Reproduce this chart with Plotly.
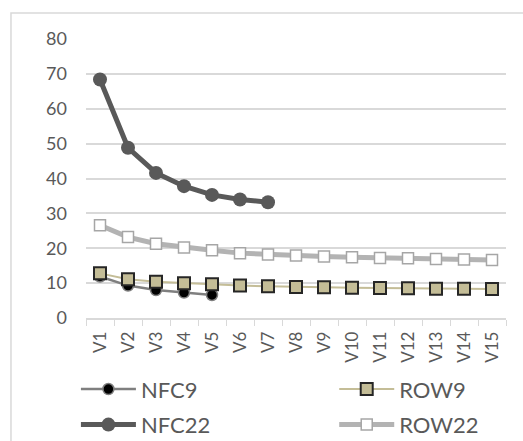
import plotly.graph_objects as go

categories = [f"V{i}" for i in range(1, 16)]
nfc9 = [11.9, 9.3, 8.0, 7.3, 6.6]
row9 = [12.8, 11.1, 10.4, 10.0, 9.7, 9.3, 9.1, 8.9, 8.8, 8.7, 8.6, 8.5, 8.4, 8.4, 8.3]
nfc22 = [68.4, 48.8, 41.6, 37.8, 35.3, 34.0, 33.2]
row22 = [26.6, 23.2, 21.3, 20.2, 19.4, 18.6, 18.2, 17.9, 17.6, 17.4, 17.2, 17.1, 16.9, 16.8, 16.6]

FONT = "Lato"
fig = go.Figure()
fig.add_trace(go.Scatter(x=categories[:len(nfc9)], y=nfc9, name="NFC9", mode="lines+markers",
                         legend="legend", legendgroup="a",
                         line=dict(color="#7f7f7f", width=2.5),
                         marker=dict(symbol="circle", size=11, color="#000000",
                                     line=dict(color="#7f7f7f", width=1.5))))
fig.add_trace(go.Scatter(x=categories, y=row9, name="ROW9", mode="lines+markers",
                         legend="legend2", legendgroup="b",
                         line=dict(color="#c4bd97", width=2),
                         marker=dict(symbol="square", size=12, color="#c4bd97",
                                     line=dict(color="#262626", width=2))))
fig.add_trace(go.Scatter(x=categories[:len(nfc22)], y=nfc22, name="NFC22", mode="lines+markers",
                         legend="legend", legendgroup="c",
                         line=dict(color="#595959", width=5),
                         marker=dict(symbol="circle", size=14, color="#595959",
                                     line=dict(color="#595959", width=0))))
fig.add_trace(go.Scatter(x=categories, y=row22, name="ROW22", mode="lines+markers",
                         legend="legend2", legendgroup="d",
                         line=dict(color="#b3b3b3", width=5),
                         marker=dict(symbol="square", size=11, color="#ffffff",
                                     line=dict(color="#a6a6a6", width=1.5))))

leg_common = dict(orientation="v", xanchor="left", y=-0.18, yanchor="top",
                  font=dict(size=22, color="#595959"), itemwidth=55,
                  traceorder="grouped", tracegroupgap=4, bgcolor="rgba(0,0,0,0)")
fig.update_layout(
    width=523, height=441,
    margin=dict(l=86, r=17, t=39, b=123, autoexpand=False),
    paper_bgcolor="white", plot_bgcolor="white",
    font=dict(family=FONT, color="#595959", size=18),
    showlegend=True,
    legend=dict(x=-0.024, **leg_common),
    legend2=dict(x=0.591, **leg_common),
    shapes=[dict(type="rect", xref="paper", yref="paper",
                 x0=-0.1786, x1=1.06, y0=-0.5, y1=1.0932,
                 line=dict(color="#d9d9d9", width=1.5), fillcolor="rgba(0,0,0,0)", layer="below")],
)
fig.update_xaxes(type="category", categoryorder="array", categoryarray=categories,
                 range=[-0.5, 14.5], tickangle=-90, showgrid=False,
                 showline=True, linecolor="#d9d9d9", linewidth=1.5,
                 ticks="outside", tickson="boundaries", ticklen=6, tickcolor="#d9d9d9",
                 ticklabelstandoff=5,
                 tickfont=dict(size=17, color="#595959"))
fig.update_yaxes(range=[0, 80], dtick=10, showgrid=True, gridcolor="#d9d9d9", gridwidth=1.5,
                 zeroline=False, showline=False, ticklabelstandoff=18,
                 tickfont=dict(size=18, color="#595959"))

fig.write_html("out.html")
